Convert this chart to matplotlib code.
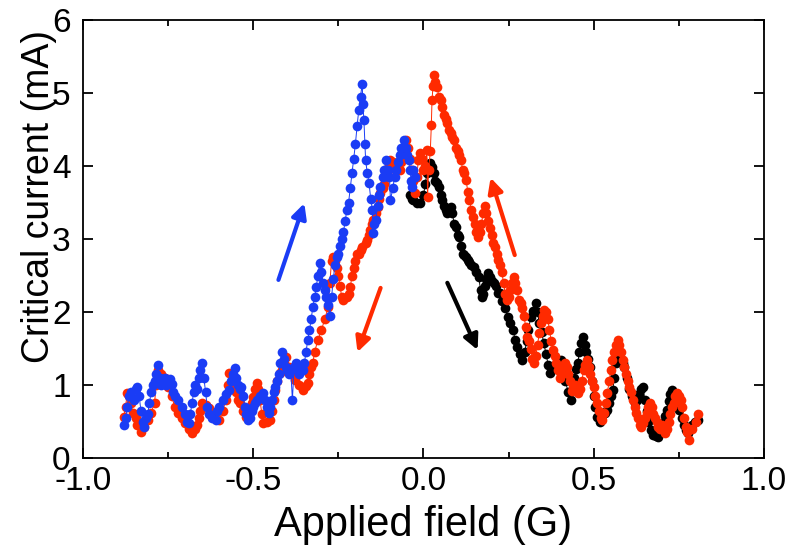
import matplotlib.pyplot as plt
from matplotlib.ticker import MultipleLocator

plt.rcParams['font.family'] = ['Liberation Sans', 'DejaVu Sans']
plt.rcParams['axes.unicode_minus'] = False

# blue: sweep up from -0.88 G towards 0
blue_x = [-0.88, -0.875, -0.87, -0.865, -0.86, -0.85, -0.845, -0.84, -0.835, -0.83,
          -0.825, -0.82, -0.815, -0.81, -0.805, -0.80, -0.795, -0.79, -0.785, -0.78,
          -0.775, -0.77, -0.765, -0.76, -0.755, -0.75, -0.745, -0.74, -0.735, -0.73,
          -0.72, -0.71, -0.70, -0.695, -0.69, -0.685, -0.68, -0.675, -0.67, -0.665,
          -0.66, -0.655, -0.65, -0.645, -0.64, -0.635, -0.63, -0.62, -0.61, -0.605,
          -0.60, -0.59, -0.58, -0.57, -0.565, -0.56, -0.555, -0.55, -0.545, -0.54,
          -0.535, -0.53, -0.525, -0.52, -0.515, -0.51, -0.505, -0.50, -0.495, -0.49,
          -0.48, -0.47, -0.465, -0.46, -0.455, -0.45, -0.445, -0.44, -0.435, -0.43,
          -0.425, -0.42, -0.415, -0.41, -0.405, -0.40, -0.395, -0.39, -0.385, -0.38,
          -0.375, -0.37, -0.365, -0.36, -0.355, -0.35, -0.345, -0.34, -0.335, -0.33,
          -0.325, -0.32, -0.315, -0.31, -0.305, -0.30, -0.295, -0.29, -0.285, -0.28,
          -0.275, -0.27, -0.265, -0.26, -0.255, -0.25, -0.245, -0.24, -0.235, -0.23,
          -0.225, -0.22, -0.215, -0.21, -0.205, -0.20, -0.195, -0.19, -0.185, -0.18,
          -0.178, -0.175, -0.172, -0.17, -0.165, -0.16, -0.155, -0.15, -0.148, -0.145,
          -0.14, -0.135, -0.13, -0.127, -0.12, -0.115, -0.11, -0.105, -0.10, -0.097,
          -0.09, -0.085, -0.08, -0.075, -0.07, -0.065, -0.058, -0.052, -0.048, -0.044,
          -0.04, -0.036, -0.033, -0.03, -0.025]
blue_y = [0.45, 0.55, 0.70, 0.85, 0.90, 0.80, 0.95, 0.97, 0.85, 0.65,
          0.50, 0.42, 0.55, 0.60, 0.75, 0.90, 1.00, 1.05, 1.15, 1.27,
          1.10, 1.00, 1.05, 1.10, 1.00, 1.05, 1.08, 1.02, 0.90, 0.85,
          0.80, 0.70, 0.60, 0.50, 0.48, 0.60, 0.75, 0.90, 1.00, 0.95,
          1.10, 1.20, 1.30, 1.10, 0.90, 0.70, 0.60, 0.55, 0.52, 0.65,
          0.70, 0.80, 0.88, 0.93, 1.05, 1.15, 1.23, 1.10, 1.00, 0.95,
          0.97, 0.85, 0.70, 0.60, 0.52, 0.55, 0.65, 0.70, 0.75, 0.79,
          0.85, 0.89, 0.80, 0.70, 0.62, 0.70, 0.80, 0.90, 0.97, 1.05,
          1.15, 1.30, 1.45, 1.35, 1.25, 1.20, 1.15, 1.20, 0.80, 1.25,
          1.30, 1.20, 1.15, 1.25, 1.20, 1.30, 1.45, 1.62, 1.75, 1.90,
          2.07, 2.20, 2.34, 2.50, 2.67, 2.55, 2.40, 2.30, 2.20, 2.10,
          1.95, 2.20, 2.45, 2.65, 2.75, 2.80, 2.90, 3.00, 3.10, 3.25,
          3.40, 3.50, 3.70, 3.90, 4.10, 4.30, 4.55, 4.77, 4.95, 5.13,
          4.85, 4.63, 4.30, 4.08, 3.90, 3.77, 3.55, 3.40, 3.08, 3.20,
          3.26, 3.45, 3.60, 3.71, 3.85, 3.95, 4.08, 3.95, 3.85, 3.53,
          3.70, 3.85, 3.95, 4.05, 4.15, 4.25, 4.36, 4.25, 4.15, 4.08,
          3.95, 3.80, 3.71, 3.95, 3.85]

# red: sweep down from +0.8 G to -0.88 G
red_x = [0.805, 0.80, 0.79, 0.78, 0.775, 0.77, 0.765, 0.76, 0.755, 0.75,
         0.745, 0.74, 0.735, 0.73, 0.725, 0.72, 0.715, 0.71, 0.705, 0.70,
         0.695, 0.69, 0.685, 0.68, 0.675, 0.67, 0.665, 0.66, 0.655, 0.65,
         0.645, 0.64, 0.635, 0.63, 0.625, 0.62, 0.615, 0.61, 0.605, 0.60,
         0.595, 0.59, 0.585, 0.58, 0.575, 0.57, 0.565, 0.56, 0.555, 0.55,
         0.545, 0.54, 0.535, 0.53, 0.525, 0.52, 0.515, 0.51, 0.505, 0.50,
         0.495, 0.49, 0.485, 0.48, 0.475, 0.47, 0.465, 0.46, 0.455, 0.45,
         0.445, 0.44, 0.435, 0.43, 0.425, 0.42, 0.415, 0.41, 0.405, 0.40,
         0.395, 0.39, 0.385, 0.38, 0.375, 0.37, 0.365, 0.36, 0.355, 0.35,
         0.345, 0.34, 0.335, 0.33, 0.325, 0.32, 0.315, 0.31, 0.305, 0.30,
         0.295, 0.29, 0.285, 0.28, 0.275, 0.27, 0.265, 0.26, 0.255, 0.25,
         0.245, 0.24, 0.235, 0.23, 0.225, 0.22, 0.215, 0.21, 0.205, 0.20,
         0.195, 0.19, 0.185, 0.18, 0.175, 0.17, 0.165, 0.16, 0.155, 0.15,
         0.145, 0.14, 0.135, 0.13, 0.125, 0.12, 0.115, 0.11, 0.105, 0.10,
         0.095, 0.09, 0.085, 0.08, 0.075, 0.07, 0.065, 0.06, 0.055, 0.05,
         0.045, 0.04, 0.035, 0.03, 0.028, 0.025, 0.023, 0.02, 0.015, 0.012,
         0.01, 0.005, 0.0, -0.005, -0.01, -0.015, -0.02, -0.024, -0.03, -0.035,
         -0.04, -0.045, -0.05, -0.055, -0.06, -0.065, -0.07, -0.08, -0.085, -0.09,
         -0.097, -0.10, -0.105, -0.11, -0.115, -0.12, -0.127, -0.13, -0.135, -0.14,
         -0.147, -0.15, -0.156, -0.16, -0.165, -0.17, -0.18, -0.185, -0.19, -0.195,
         -0.20, -0.205, -0.21, -0.215, -0.22, -0.225, -0.235, -0.24, -0.245, -0.25,
         -0.255, -0.26, -0.265, -0.27, -0.275, -0.28, -0.29, -0.30, -0.31, -0.32,
         -0.325, -0.33, -0.335, -0.34, -0.345, -0.355, -0.365, -0.376, -0.385, -0.395,
         -0.405, -0.41, -0.415, -0.42, -0.43, -0.435, -0.44, -0.445, -0.45, -0.46,
         -0.47, -0.475, -0.48, -0.485, -0.49, -0.495, -0.50, -0.505, -0.51, -0.515,
         -0.52, -0.53, -0.54, -0.545, -0.55, -0.555, -0.56, -0.57, -0.575, -0.58,
         -0.59, -0.60, -0.61, -0.62, -0.63, -0.64, -0.65, -0.655, -0.66, -0.665,
         -0.67, -0.68, -0.69, -0.70, -0.71, -0.72, -0.73, -0.74, -0.75, -0.755,
         -0.76, -0.77, -0.78, -0.785, -0.79, -0.80, -0.81, -0.82, -0.83, -0.84,
         -0.845, -0.853, -0.86, -0.865, -0.87, -0.875, -0.88]
red_y = [0.60, 0.50, 0.40, 0.25, 0.35, 0.42, 0.55, 0.70, 0.80, 0.85,
         0.89, 0.85, 0.75, 0.70, 0.60, 0.50, 0.40, 0.34, 0.38, 0.45,
         0.40, 0.42, 0.50, 0.55, 0.60, 0.70, 0.75, 0.70, 0.62, 0.55,
         0.48, 0.42, 0.45, 0.55, 0.62, 0.70, 0.80, 0.90, 0.97, 1.05,
         1.15, 1.25, 1.34, 1.45, 1.55, 1.62, 1.55, 1.45, 1.34, 1.20,
         1.05, 0.89, 0.75, 0.62, 0.52, 0.55, 0.65, 0.75, 0.85, 0.97,
         1.05, 1.15, 1.25, 1.34, 1.28, 1.20, 1.05, 0.95, 0.89, 0.95,
         1.00, 0.97, 0.92, 1.05, 1.15, 1.25, 1.30, 1.25, 1.15, 1.10,
         1.20, 1.30, 1.40, 1.48, 1.60, 1.75, 1.90, 2.00, 2.03, 1.95,
         1.85, 1.71, 1.55, 1.40, 1.30, 1.35, 1.50, 1.60, 1.66, 1.80,
         1.95, 2.05, 2.12, 2.16, 2.30, 2.40, 2.48, 2.40, 2.30, 2.20,
         2.16, 2.25, 2.40, 2.55, 2.65, 2.71, 2.80, 2.89, 2.95, 3.05,
         3.15, 3.25, 3.36, 3.45, 3.36, 3.20, 3.10, 3.03, 3.10, 3.20,
         3.30, 3.40, 3.53, 3.65, 3.81, 3.90, 3.95, 4.08, 4.15, 4.20,
         4.25, 4.36, 4.40, 4.45, 4.50, 4.59, 4.65, 4.70, 4.81, 4.90,
         4.95, 5.08, 5.15, 5.25, 5.10, 4.90, 4.56, 4.20, 3.95, 3.58,
         4.22, 4.00, 3.95, 4.10, 4.18, 4.08, 3.85, 3.63, 3.80, 3.95,
         4.10, 4.25, 4.36, 4.25, 4.18, 4.05, 3.95, 3.95, 4.00, 4.05,
         4.08, 4.00, 3.95, 3.85, 3.75, 3.70, 3.63, 3.55, 3.44, 3.35,
         3.26, 3.20, 3.12, 3.05, 2.99, 2.95, 2.89, 2.85, 2.80, 2.80,
         2.70, 2.60, 2.50, 2.34, 2.25, 2.20, 2.16, 2.20, 2.35, 2.50,
         2.60, 2.70, 2.75, 2.70, 2.40, 2.07, 1.90, 1.75, 1.62, 1.45,
         1.30, 1.25, 1.15, 1.03, 0.98, 0.93, 1.00, 1.07, 1.15, 1.25,
         1.38, 1.30, 1.20, 1.16, 1.05, 0.93, 0.80, 0.65, 0.52, 0.50,
         0.48, 0.60, 0.80, 0.95, 1.03, 0.95, 0.84, 0.75, 0.65, 0.60,
         0.56, 0.65, 0.75, 0.79, 0.90, 1.00, 1.10, 1.16, 1.00, 0.79,
         0.65, 0.52, 0.55, 0.62, 0.68, 0.72, 0.75, 0.65, 0.55, 0.45,
         0.40, 0.34, 0.40, 0.48, 0.55, 0.62, 0.70, 0.85, 0.97, 1.05,
         1.10, 1.15, 1.20, 1.00, 0.75, 0.62, 0.52, 0.42, 0.36, 0.45,
         0.55, 0.62, 0.75, 0.85, 0.89, 0.70, 0.56]

# black: sweep up from 0 to +0.8 G
black_x = [-0.04, -0.035, -0.03, -0.02, -0.01, 0.0, 0.005, 0.01, 0.015, 0.02,
           0.025, 0.03, 0.035, 0.04, 0.045, 0.05, 0.055, 0.06, 0.065, 0.07,
           0.075, 0.08, 0.085, 0.09, 0.095, 0.10, 0.105, 0.11, 0.115, 0.12,
           0.125, 0.13, 0.135, 0.14, 0.147, 0.155, 0.162, 0.168, 0.172, 0.176,
           0.18, 0.185, 0.19, 0.195, 0.20, 0.206, 0.212, 0.218, 0.226, 0.232,
           0.24, 0.247, 0.255, 0.262, 0.27, 0.276, 0.283, 0.29, 0.297, 0.303,
           0.308, 0.315, 0.322, 0.33, 0.335, 0.34, 0.347, 0.353, 0.36, 0.366,
           0.373, 0.38, 0.388, 0.395, 0.403, 0.41, 0.417, 0.425, 0.432, 0.438,
           0.443, 0.448, 0.453, 0.458, 0.463, 0.468, 0.473, 0.478, 0.484, 0.49,
           0.495, 0.50, 0.505, 0.51, 0.518, 0.525, 0.532, 0.54, 0.546, 0.551,
           0.556, 0.56, 0.565, 0.57, 0.575, 0.58, 0.585, 0.59, 0.597, 0.605,
           0.612, 0.62, 0.627, 0.634, 0.64, 0.644, 0.65, 0.655, 0.66, 0.668,
           0.675, 0.683, 0.69, 0.697, 0.703, 0.709, 0.715, 0.72, 0.725, 0.73,
           0.735, 0.74, 0.745, 0.75, 0.758, 0.765, 0.772, 0.776, 0.782, 0.79,
           0.797, 0.805]
black_y = [3.60, 3.55, 3.53, 3.50, 3.49, 3.60, 3.75, 3.90, 4.00, 4.04,
           3.99, 3.90, 3.80, 3.77, 3.71, 3.60, 3.53, 3.45, 3.40, 3.36,
           3.40, 3.44, 3.35, 3.20, 3.16, 3.05, 3.03, 2.90, 2.80, 2.78,
           2.75, 2.71, 2.68, 2.65, 2.62, 2.55, 2.48, 2.30, 2.20, 2.25,
           2.35, 2.45, 2.53, 2.48, 2.42, 2.40, 2.35, 2.26, 2.26, 2.15,
           2.05, 1.93, 1.85, 1.75, 1.62, 1.52, 1.42, 1.34, 1.45, 1.60,
           1.75, 1.93, 2.02, 2.12, 2.00, 1.85, 1.72, 1.58, 1.42, 1.28,
           1.16, 1.22, 1.28, 1.32, 1.34, 1.20, 1.05, 0.90, 0.79, 0.95,
           1.10, 1.22, 1.30, 1.45, 1.58, 1.66, 1.55, 1.45, 1.35, 1.25,
           1.05, 0.85, 0.70, 0.56, 0.50, 0.58, 0.62, 0.66, 0.75, 0.85,
           0.93, 1.10, 1.30, 1.48, 1.42, 1.35, 1.30, 1.25, 1.10, 0.95,
           0.85, 0.75, 0.80, 0.88, 0.95, 0.97, 0.80, 0.65, 0.50, 0.38,
           0.32, 0.30, 0.29, 0.38, 0.48, 0.58, 0.66, 0.78, 0.88, 0.93,
           0.85, 0.75, 0.70, 0.66, 0.55, 0.45, 0.38, 0.34, 0.40, 0.45,
           0.50, 0.52]

# sweep direction arrows: (tail x, tail y, head x, head y, colour)
arrows = [(-0.426, 2.44, -0.35, 3.49, '#1a3cf5'),
          (-0.126, 2.33, -0.194, 1.45, '#ff2a00'),
          (0.07, 2.40, 0.159, 1.48, 'black'),
          (0.268, 2.78, 0.197, 3.84, '#ff2a00')]

fig = plt.figure(figsize=(7.89, 5.48), dpi=100)
ax = fig.add_axes([0.1052, 0.1642, 0.8631, 0.7993])

ms = 7
ax.plot(black_x, black_y, '-o', color='black', lw=0.7, ms=ms, mew=0)
ax.plot(red_x, red_y, '-o', color='#ff2a00', lw=0.7, ms=ms, mew=0)
ax.plot(blue_x, blue_y, '-o', color='#1a3cf5', lw=0.7, ms=ms, mew=0)

for x0, y0, x1, y1, c in arrows:
    ax.annotate('', xy=(x1, y1), xytext=(x0, y0),
                arrowprops=dict(arrowstyle='-|>', color=c, lw=3,
                                mutation_scale=22, shrinkA=0, shrinkB=0))

ax.set_xlim(-1.0, 1.0)
ax.set_ylim(0, 6)
ax.xaxis.set_major_locator(MultipleLocator(0.5))
ax.xaxis.set_minor_locator(MultipleLocator(0.25))
ax.yaxis.set_major_locator(MultipleLocator(1))
ax.tick_params(which='both', direction='in', top=True, right=True, width=1.3)
ax.tick_params(which='major', length=7, labelsize=24)
ax.tick_params(which='minor', length=4)
ax.tick_params(axis='x', pad=6)
ax.tick_params(axis='y', pad=9)
for s in ax.spines.values():
    s.set_linewidth(1.3)

ax.set_xlabel('Applied field (G)', fontsize=30)
ax.set_ylabel('Critical current (mA)', fontsize=27)
ax.xaxis.set_label_coords(0.5, -0.107)
ax.yaxis.set_label_coords(-0.038, 0.598)

fig.savefig('out.png', dpi=100)
